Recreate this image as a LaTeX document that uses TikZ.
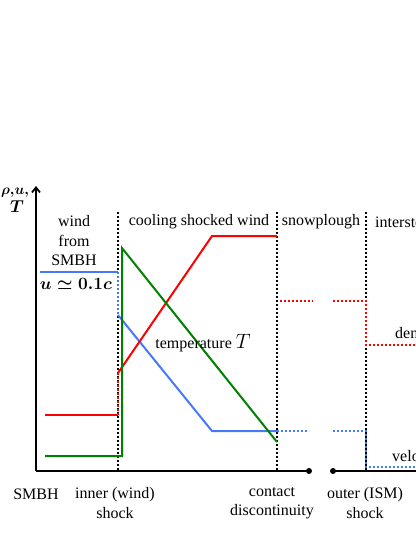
\documentclass[tikz,border=0pt]{standalone}
\usepackage{fontspec}
\usepackage{amsmath}
\setmainfont{Liberation Serif}
\usetikzlibrary{arrows.meta}
\definecolor{cblue}{RGB}{70,120,250}
\definecolor{cred}{RGB}{255,0,0}
\definecolor{cgreen}{RGB}{0,128,0}
\begin{document}
\begin{tikzpicture}[x=1pt,y=-1pt,
  lab/.style={font=\fontsize{16}{19.5}\selectfont, inner sep=0pt, align=center},
  curve/.style={line width=2pt, line join=miter},
  dotline/.style={line width=1.8pt, dash pattern=on 1.8pt off 2.2pt},
  guide/.style={black, line width=1.6pt, dash pattern=on 1.6pt off 2.4pt},
  axis/.style={line width=1.8pt}]
\useasboundingbox (0,0) rectangle (415,537);
% axes
\coordinate (o) at (36,471);
\coordinate (ytop) at (36,186);
\coordinate (xa) at (309,471);
\coordinate (xb) at (333,471);
\coordinate (xe) at (430,471);
% guides
\coordinate (g1t) at (118,212); \coordinate (g1b) at (118,471);
\coordinate (g2t) at (277,212); \coordinate (g2b) at (277,471);
\coordinate (g3t) at (366,212); \coordinate (g3b) at (366,471);
\draw[guide] (g1t) -- (g1b);
\draw[guide] (g2t) -- (g2b);
\draw[guide] (g3t) -- (g3b);
\draw[axis,-{Straight Barb[length=5pt,width=8pt]}] (o) -- (ytop);
\draw[axis] (o) -- (xa);
\draw[axis] (xb) -- (xe);
\fill (xa) circle (3pt);
\fill (xb) circle (3pt);
% velocity (blue)
\draw[curve,cblue] (40,272) -- (118,272);
\draw[dotline,cblue] (118,272) -- (118,315);
\draw[curve,cblue] (118,315) -- (212,431) -- (277,431);
\draw[dotline,cblue] (277,431) -- (309,431);
\draw[dotline,cblue] (333,431) -- (366,431) -- (366,467) -- (430,467);
% density (red)
\draw[curve,cred] (45,415) -- (118,415);
\draw[dotline,cred] (118,415) -- (118,373);
\draw[curve,cred] (118,373) -- (212,236) -- (277,236);
\draw[dotline,cred] (280,301) -- (313,301);
\draw[dotline,cred] (333,301) -- (366,301) -- (366,345) -- (430,345);
% temperature (green)
\draw[curve,cgreen] (45,456) -- (122,456) -- (122,248) -- (277,442);
% labels
\node[lab, anchor=west, font=\fontsize{13.5}{15}\selectfont] (yl1) at (1,193) {$\boldsymbol{\rho,\!u,}$};
\node[lab] (yl2) at (17,207) {\fontsize{17}{17}\selectfont$\boldsymbol{T}$};
\node[lab] (wind) at (74,241) {wind\\from\\SMBH};
\node[lab] (uval) at (76,284) {$\boldsymbol{u\simeq 0.1c}$};
\node[lab] (csw) at (199,222) {cooling shocked wind};
\node[lab] (snow) at (321,222) {snowplough};
\node[lab, anchor=west] (ism) at (375,222) {interstellar};
\node[lab, anchor=west] (dens) at (395,335) {density};
\node[lab, anchor=west] (velo) at (392,458) {velocity};
\node[lab] (temp) at (203,343) {temperature {\fontsize{22}{22}\selectfont$T$}};
\node[lab] (smbh) at (36,494) {SMBH};
\node[lab] (inner) at (115,503) {inner (wind)\\shock};
\node[lab] (contact) at (272,503) {contact\\discontinuity};
\node[lab] (outer) at (365,503) {outer (ISM)\\shock};
\end{tikzpicture}
\end{document}
